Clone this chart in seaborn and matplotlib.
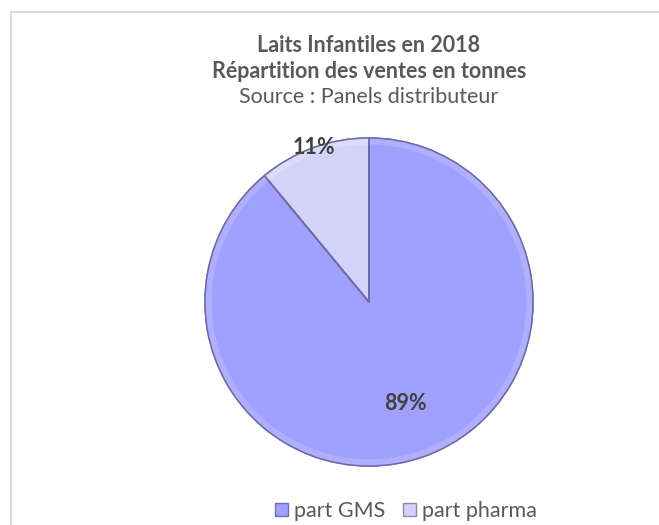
import matplotlib
matplotlib.use("Agg")
import matplotlib.pyplot as plt
from matplotlib.patches import Rectangle, Patch
import numpy as np
import seaborn as sns

# Data
categories = ["part GMS", "part pharma"]
values = [89, 11]
pct_labels = ["89%", "11%"]
title_lines = ["Laits Infantiles en 2018", "Répartition des ventes en tonnes"]
subtitle = "Source : Panels distributeur"

sns.set_theme(style="white")
plt.rcParams['font.family'] = ['Lato', 'DejaVu Sans']

colors = ["#A0A0FE", "#D3D3FA"]
edge_colors = ["#6E6EC8", "#8A8AB0"]

fig = plt.figure(figsize=(6.59, 5.25), dpi=100)
fig.patch.set_facecolor("white")

# frame
fig.patches.append(Rectangle((10.5 / 659, -0.05), 1.2, 1 - 11.5 / 525 + 0.05,
                             transform=fig.transFigure, fill=False,
                             edgecolor="#D9D9D9", linewidth=1.4, zorder=0))

W, H = 659, 525
cx, cy, r = 369, 302, 164
ax = fig.add_axes([(cx - r) / W, (H - cy - r) / H, 2 * r / W, 2 * r / H])

wedges, _ = ax.pie(values, colors=colors, startangle=90, counterclock=False,
                   radius=1.0, wedgeprops=dict(edgecolor="#7C7C9A", linewidth=1.2))
# bevel highlight ring
ax.pie(values, colors=["#B4B4FF", "#DEDEFB"], startangle=90, counterclock=False,
       radius=1.0, wedgeprops=dict(width=0.04, edgecolor="none", alpha=0.8))
outline, _ = ax.pie(values, colors=["white", "white"], startangle=90, counterclock=False,
                    radius=1.0, wedgeprops=dict(edgecolor="#6A6AA8", linewidth=1.0))
for w in outline:
    w.set_fill(False)

ax.set_xlim(-1, 1)
ax.set_ylim(-1, 1)
ax.set_aspect("equal")
ax.axis("off")

# percentage labels
total = sum(values)
start = 90
dists = [0.66, 1.0]
for v, lab, d in zip(values, pct_labels, dists):
    mid = start - v / total * 360 / 2
    start -= v / total * 360
    th = np.deg2rad(mid)
    ax.text(d * np.cos(th), d * np.sin(th), lab, ha="center", va="center",
            fontsize=15.5, fontweight="bold", color="#404040")

# titles
fig.text(cx / W, 1 - 46 / H, title_lines[0], ha="center", va="center",
         fontsize=15.5, fontweight="bold", color="#595959")
fig.text(cx / W, 1 - 72 / H, title_lines[1], ha="center", va="center",
         fontsize=15.5, fontweight="bold", color="#595959")
fig.text(cx / W, 1 - 97 / H, subtitle, ha="center", va="center",
         fontsize=15.5, color="#595959")

handles = [Patch(facecolor=c, edgecolor=e, linewidth=1.0) for c, e in zip(colors, edge_colors)]
fig.legend(handles, categories, loc="center", bbox_to_anchor=(406 / W, 1 - 511 / H),
           ncol=2, frameon=False, fontsize=15.5, handlelength=0.6, handleheight=0.6,
           handletextpad=0.3, columnspacing=0.8, labelcolor="#595959")

fig.savefig("out.png", dpi=100, facecolor="white")
